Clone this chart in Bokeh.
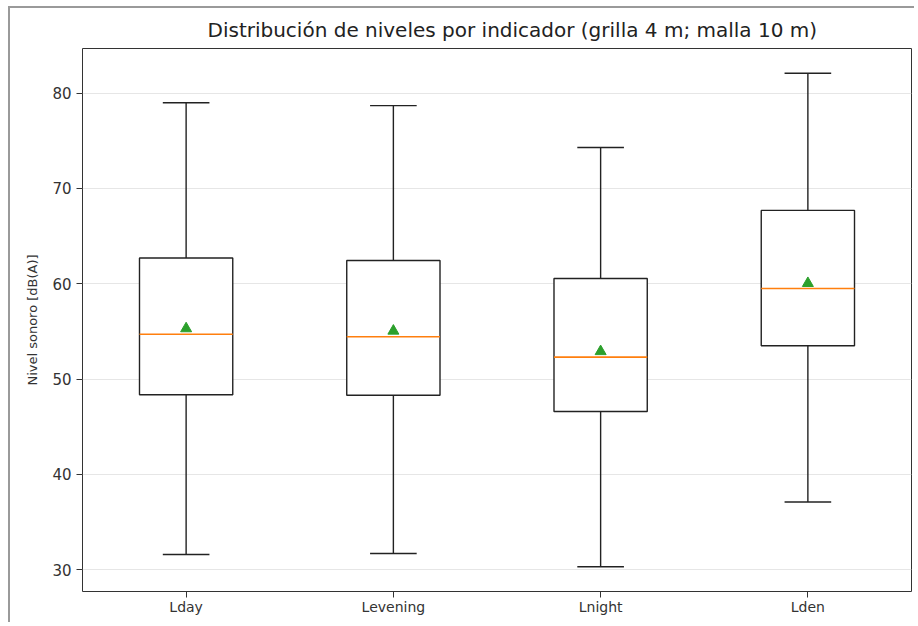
from bokeh.plotting import figure
from bokeh.models import FixedTicker, Range1d
from bokeh.embed import file_html
from bokeh.resources import INLINE

# ---- data ----
categories = ["Lday", "Levening", "Lnight", "Lden"]
whisker_low = [31.6, 31.7, 30.3, 37.1]
q1 = [48.35, 48.3, 46.6, 53.5]
median = [54.7, 54.45, 52.3, 59.5]
mean = [55.3, 55.05, 52.9, 60.05]
q3 = [62.7, 62.45, 60.55, 67.7]
whisker_high = [79.0, 78.7, 74.3, 82.1]
y_ticks = [30, 40, 50, 60, 70, 80]

positions = [i + 1 for i in range(len(categories))]
box_w = 0.45
cap_w = box_w / 2

lo = min(whisker_low)
hi = max(whisker_high)
pad = (hi - lo) * 0.05

FONT = "DejaVu Sans"

p = figure(
    width=906, height=616,
    output_backend="svg", toolbar_location=None,
    x_range=Range1d(0.5, len(categories) + 0.5),
    y_range=Range1d(lo - pad, hi + pad),
    title="Distribución de niveles por indicador (grilla 4 m; malla 10 m)",
    min_border_left=72, min_border_right=5, min_border_top=40, min_border_bottom=33,
)
p.styles = {"margin-left": "8px", "margin-top": "6px",
            "border-left": "2px solid #9a9a9a", "border-top": "2px solid #9a9a9a"}

p.title.align = "left"
p.title.offset = 125
p.title.text_font = FONT
p.title.text_font_size = "20px"
p.title.text_font_style = "normal"
p.title.text_color = "#222222"
p.title.standoff = 13

p.outline_line_color = "#333333"
p.outline_line_width = 1
p.background_fill_color = "white"
p.border_fill_color = "white"

# axes
p.xaxis.ticker = FixedTicker(ticks=positions)
p.xaxis.major_label_overrides = {pos: c for pos, c in zip(positions, categories)}
p.yaxis.ticker = FixedTicker(ticks=y_ticks)
for ax in (p.xaxis[0], p.yaxis[0]):
    ax.axis_line_color = None
    ax.major_tick_line_color = "#333333"
    ax.major_tick_out = 6
    ax.major_tick_in = 0
    ax.minor_tick_line_color = None
    ax.major_label_text_font = FONT
    ax.major_label_text_font_size = "14px"
    ax.major_label_text_color = "#333333"
    ax.major_label_standoff = 5
p.xaxis.major_label_standoff = 1
p.yaxis.major_label_text_font_size = "15px"
p.yaxis.axis_label = "Nivel sonoro [dB(A)]"
p.yaxis.axis_label_text_font = FONT
p.yaxis.axis_label_text_font_size = "13px"
p.yaxis.axis_label_text_font_style = "normal"
p.yaxis.axis_label_text_color = "#333333"
p.yaxis.axis_label_standoff = 9

p.xgrid.grid_line_color = None
p.ygrid.grid_line_color = "#e6e6e6"
p.ygrid.grid_line_width = 1

# boxes
left = [x - box_w / 2 for x in positions]
right = [x + box_w / 2 for x in positions]
p.quad(left=left, right=right, bottom=q1, top=q3,
       fill_color="white", line_color="#222222", line_width=1.4)
# whiskers
p.segment(x0=positions, y0=q3, x1=positions, y1=whisker_high, line_color="#222222", line_width=1.4)
p.segment(x0=positions, y0=q1, x1=positions, y1=whisker_low, line_color="#222222", line_width=1.4)
# caps
cl = [x - cap_w / 2 for x in positions]
cr = [x + cap_w / 2 for x in positions]
p.segment(x0=cl, y0=whisker_high, x1=cr, y1=whisker_high, line_color="#222222", line_width=1.4)
p.segment(x0=cl, y0=whisker_low, x1=cr, y1=whisker_low, line_color="#222222", line_width=1.4)
# medians
p.segment(x0=left, y0=median, x1=right, y1=median, line_color="#ff7f0e", line_width=1.6)
# means
p.scatter(x=positions, y=mean, marker="triangle", size=11,
          fill_color="#2ca02c", line_color="#2ca02c")

open("out.html", "w").write(file_html(p, INLINE))
